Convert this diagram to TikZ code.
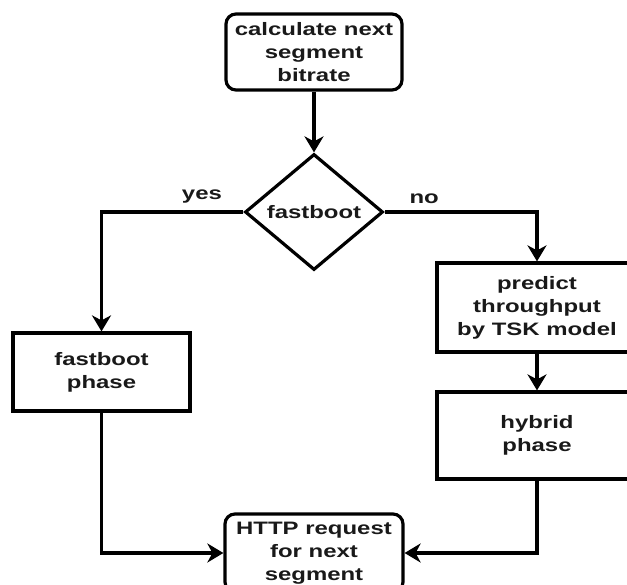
\documentclass[tikz,border=0pt]{standalone}
\usepackage{fontspec}
\setmainfont{Liberation Sans}[FakeStretch=1.33]
\usetikzlibrary{shapes.geometric,arrows.meta,positioning}

\begin{document}
\begin{tikzpicture}[x=1pt,y=-1pt,->,>={Stealth[length=16pt,width=19pt,inset=5pt]},line width=3.2pt,
	every node/.style={font=\fontsize{18}{23}\selectfont\bfseries, text=black!90}]
	\tikzstyle{block}=[rectangle, draw, line width=3.2pt, inner sep=0pt, align=center, minimum width=200, minimum height=89]
	\tikzstyle{decision}=[diamond, draw, line width=3.2pt, inner sep=0pt, minimum width=138, minimum height=116]
	\tikzstyle{label}=[above, inner sep=7pt]
	
	\clip (0,0) rectangle (627,585);
	
	\node[block, rounded corners=10pt, minimum width=176, minimum height=76] (calc) at (314,52) {calculate next\\segment\\bitrate};
	\node[decision]      (fast)    at (314,212)   {fastboot};
	\node[block, minimum width=177, minimum height=78] (fbphase) at (101.5,372) {fastboot\\phase};
	\node[block]         (tsk)     at (537,307.5) {predict\\throughput\\by TSK model};
	\node[block, minimum height=87] (hybrid) at (537,435.5) {hybrid\\phase};
	\node[block, rounded corners=10pt, minimum width=178, minimum height=78] (http) at (314,553) {HTTP request\\for next\\segment};
	
	\draw (calc) -- (fast);
	\draw (fast.west) -| node[label, pos=0.146]{yes} (fbphase.north);
	\draw (fast.east) -| node[label, pos=0.13]{no} (tsk.north);
	\draw (tsk) -- (hybrid);
	\draw (fbphase.south) |- (http.west);
	\draw (hybrid.south) |- (http.east);
	
\end{tikzpicture}
\end{document}
